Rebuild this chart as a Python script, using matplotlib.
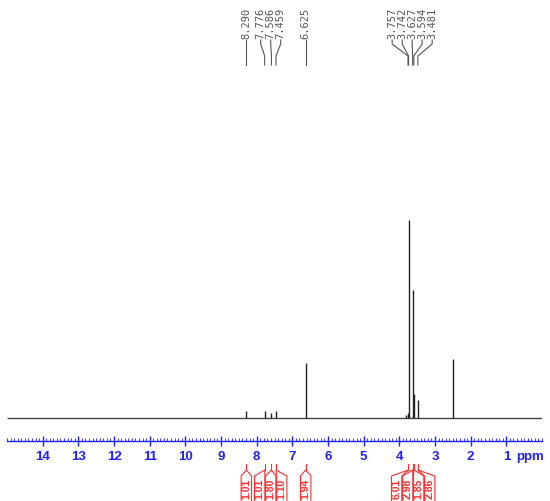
import matplotlib
matplotlib.use('Agg')
import matplotlib.pyplot as plt
from matplotlib.ticker import MultipleLocator, FixedLocator
import numpy as np

# peak positions (ppm) and heights (arbitrary, baseline = 0)
peak_ppm = [8.290, 7.776, 7.586, 7.459, 6.625, 3.800, 3.757, 3.742, 3.627, 3.594, 3.481, 2.500]
peak_height = [7, 7, 5, 7, 55, 3, 5, 198, 128, 24, 18, 59]

# labelled shifts above the spectrum
label_groups = [[8.290, 7.776, 7.586, 7.459, 6.625],
                [3.757, 3.742, 3.627, 3.594, 3.481]]

# integrals: centre of region and value
integ_ppm = [8.290, 7.776, 7.586, 7.459, 6.625, 3.750, 3.627, 3.594, 3.481]
integ_val = ['1.01', '1.01', '1.80', '1.10', '1.94', '6.01', '2.98', '1.85', '2.86']

W, H = 550, 502
x0, x1 = 7, 542           # pixel span of 15 .. 0 ppm
base_px, axis_px = 419, 442
ppx = (x1 - x0) / 15.0    # pixels per ppm


def spread(vals, gap):
    """Push label positions apart (ppm, descending) to keep at least `gap` between them."""
    groups = [[v] for v in sorted(vals, reverse=True)]
    def pos(g):
        c = np.mean(g)
        n = len(g)
        return [c + ((n - 1) / 2 - i) * gap for i in range(n)]
    changed = True
    while changed:
        changed = False
        for i in range(len(groups) - 1):
            if pos(groups[i])[-1] - pos(groups[i + 1])[0] < gap - 1e-9:
                groups[i] = groups[i] + groups[i + 1]
                del groups[i + 1]
                changed = True
                break
    out = []
    for g in groups:
        out += pos(g)
    return out


fig = plt.figure(figsize=(W / 100, H / 100), dpi=100)
ax = fig.add_axes([x0 / W, (H - axis_px) / H, (x1 - x0) / W, axis_px / H])
ax.set_xlim(15, 0)
ax.set_ylim(base_px - axis_px, base_px)   # y in pixel-sized units above baseline

# spectrum
ax.hlines(0, 15, 0, color='#444444', lw=1.0)
ax.vlines(peak_ppm, 0, peak_height, color='#222222', lw=1.0)

# axis styling
blue = '#1f1fff'
for s in ['top', 'left', 'right']:
    ax.spines[s].set_visible(False)
ax.spines['bottom'].set_color(blue)
ax.spines['bottom'].set_linewidth(1.0)
ax.set_yticks([])
ax.xaxis.set_major_locator(FixedLocator(range(1, 15)))
ax.xaxis.set_minor_locator(MultipleLocator(0.1))
ax.tick_params(axis='x', which='major', direction='inout', length=7, width=1,
               color=blue, labelcolor=blue, pad=3)
ax.tick_params(axis='x', which='minor', direction='in', length=2.5, width=0.6, color=blue)
for lab in ax.get_xticklabels():
    lab.set_fontfamily('Liberation Sans')
    lab.set_fontweight('bold')
    lab.set_fontsize(9.5)
ax.text(0.34, base_px - 457, 'ppm', color=blue, fontsize=9.5, fontweight='bold',
        family='Liberation Sans', ha='center', va='center', clip_on=False)

# peak labels on top
gray = '#555555'
for grp in label_groups:
    lpos = spread(grp, 10 / ppx)
    for p, lx in zip(sorted(grp, reverse=True), lpos):
        ax.text(lx, base_px - 39, f'{p:.3f}', rotation=90, ha='center', va='bottom',
                family='DejaVu Sans Mono', fontsize=7.5, color=gray, clip_on=False)
        ax.plot([lx, lx, p, p],
                [base_px - 41, base_px - 45, base_px - 57, base_px - 66],
                color=gray, lw=0.8, clip_on=False)

# integrals below the axis
red = '#ff3030'
ilpos = spread(integ_ppm, 11 / ppx)
half = 5.2 / ppx
for p, lx, v in zip(integ_ppm, ilpos, integ_val):
    ax.plot([p, p], [base_px - 465, base_px - 471], color=red, lw=0.8, clip_on=False)
    ax.plot([lx - half, lx - half, p, lx + half, lx + half],
            [base_px - 505, base_px - 477, base_px - 471, base_px - 477, base_px - 505],
            color=red, lw=0.8, clip_on=False)
    ax.text(lx, base_px - 489, v, rotation=90, ha='center', va='center',
            family='Liberation Sans', fontweight='bold', fontsize=7.5, color=red,
            clip_on=False)

plt.savefig('out.png', dpi=100)
plt.close()
